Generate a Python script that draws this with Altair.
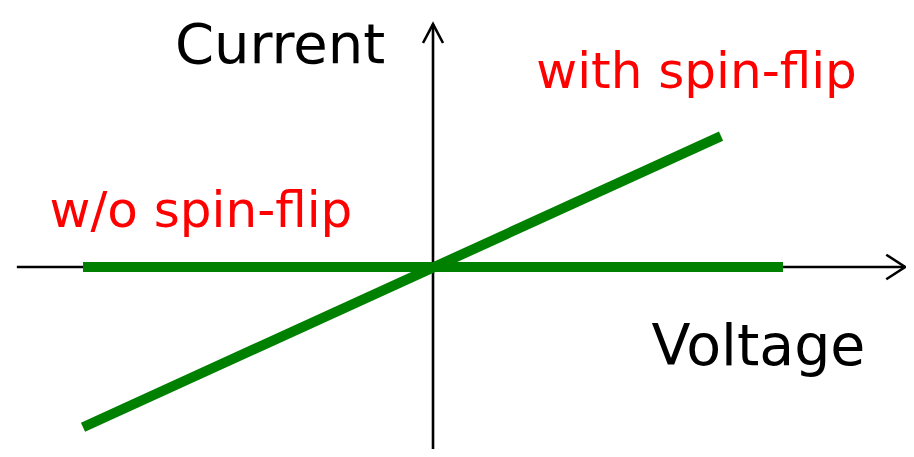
import altair as alt
import pandas as pd

# Schematic I-V curves (voltage, current in arbitrary units)
without_v = [-1.0, 1.0]
without_i = [0.0, 0.0]
with_v = [-1.0, 0.823]
with_i = [-0.458, 0.374]

# Axes (arrows)
haxis_v = [-1.189, 1.349]
vaxis_i = [-0.56, 0.694]
harrow_v = [1.295, 1.349, 1.295]
harrow_i = [0.035, 0.0, -0.035]
varrow_v = [-0.0286, 0.0, 0.0286]
varrow_i = [0.64, 0.694, 0.64]

labels = ["Current", "Voltage", "with spin-flip", "w/o spin-flip"]
label_v = [-0.437, 0.93, 0.753, -0.663]
label_i = [0.583, -0.28, 0.511, 0.114]
label_color = ["#000000", "#000000", "#ff0000", "#ff0000"]
label_size = [56, 57, 50, 50]

xs = alt.Scale(domain=[-1.2143, 1.3514], nice=False, zero=False)
ys = alt.Scale(domain=[-0.52, 0.74], nice=False, zero=False)

X = lambda f: alt.X(f, type="quantitative", scale=xs, axis=None)
Y = lambda f: alt.Y(f, type="quantitative", scale=ys, axis=None)

haxis = alt.Chart(pd.DataFrame({"v": [haxis_v[0]], "v2": [haxis_v[1]], "i": [0.0]})).mark_rule(
    color="black", strokeWidth=2.6, clip=False
).encode(x=X("v"), x2="v2", y=Y("i"))

vaxis = alt.Chart(pd.DataFrame({"v": [0.0], "i": [vaxis_i[0]], "i2": [vaxis_i[1]]})).mark_rule(
    color="black", strokeWidth=2.6, clip=False
).encode(x=X("v"), y=Y("i"), y2="i2")

arrows_df = pd.DataFrame({
    "v": harrow_v + varrow_v,
    "i": harrow_i + varrow_i,
    "k": ["h"] * 3 + ["v"] * 3,
    "o": [0, 1, 2, 0, 1, 2],
})
arrows = alt.Chart(arrows_df).mark_line(
    color="black", strokeWidth=2.6, clip=False, strokeJoin="miter"
).encode(x=X("v"), y=Y("i"), detail="k:N", order="o:Q")

curves_df = pd.DataFrame({
    "v": without_v + with_v,
    "i": without_i + with_i,
    "s": ["w/o spin-flip"] * 2 + ["with spin-flip"] * 2,
})
curves = alt.Chart(curves_df).mark_line(
    color="#008000", strokeWidth=10, strokeCap="butt", clip=False
).encode(x=X("v"), y=Y("i"), detail="s:N")

text_df = pd.DataFrame({"t": labels, "v": label_v, "i": label_i, "c": label_color, "fs": label_size})
texts = alt.Chart(text_df).mark_text(
    font="DejaVu Sans", align="center", baseline="alphabetic"
).encode(
    x=X("v"), y=Y("i"), text="t:N",
    color=alt.Color("c:N", scale=None),
    size=alt.Size("fs:Q", scale=None),
)

chart = alt.layer(haxis, vaxis, arrows, curves, texts).properties(
    width=898, height=441,
    autosize=alt.AutoSizeParams(type="none"),
    padding=0,
).configure(background="white").configure_view(stroke=None)

chart.save("out.html", embed_options={"renderer": "svg", "actions": False})
